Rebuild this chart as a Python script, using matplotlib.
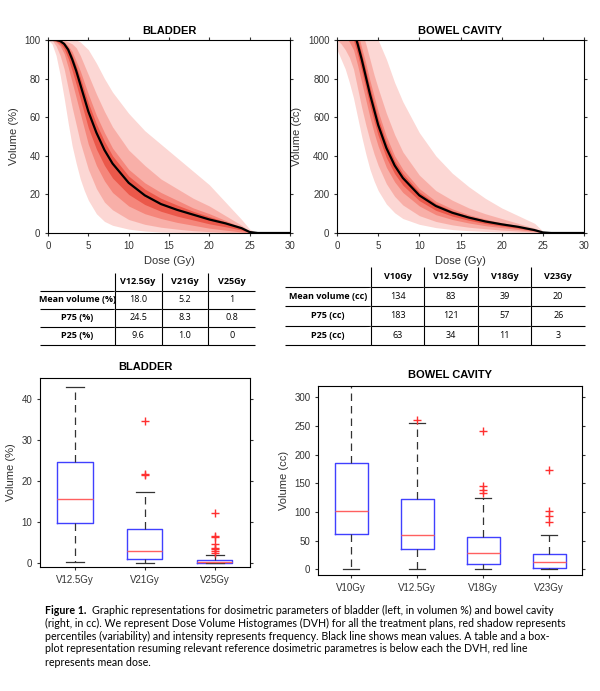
import numpy as np
import matplotlib
matplotlib.use("Agg")
import matplotlib.pyplot as plt

plt.rcParams['font.family'] = ['Liberation Sans', 'DejaVu Sans']

# DVH percentiles
dose = [0, 0.5, 1, 1.5, 2, 2.5, 3, 3.5, 4, 4.5, 5, 6, 7, 8, 10, 12, 14, 16, 18, 20, 22, 24, 25, 26, 30]
bl_mean = [100, 100, 100, 99.5, 98, 95, 90, 84, 77, 70, 63, 52, 43, 36, 26, 19.5, 15, 12, 9.5, 7, 5, 2.5, 0.5, 0, 0]
bl_max = [100, 100, 100, 100, 100, 100, 100, 100, 99, 97, 95, 88, 80, 73, 62, 53, 46, 39, 32, 25, 16, 7, 2, 0, 0]
bl_p90 = [100, 100, 100, 100, 100, 99, 98, 96, 92, 87, 82, 72, 63, 55, 43, 35, 28, 23, 18, 14, 9, 4, 1, 0, 0]
bl_p75 = [100, 100, 100, 100, 99, 97, 94, 89, 84, 78, 72, 61, 52, 44, 33, 26, 21, 17, 13, 10, 6.5, 3, 0.8, 0, 0]
bl_p25 = [100, 100, 99, 97, 93, 86, 78, 70, 62, 54, 46, 35, 27, 21, 14, 10, 7.5, 5.5, 4, 2.5, 1.5, 0.5, 0, 0, 0]
bl_p10 = [100, 100, 97, 92, 85, 75, 65, 56, 47, 40, 33, 23, 16, 12, 7, 4.5, 3, 2, 1.2, 0.7, 0.3, 0, 0, 0, 0]
bl_min = [100, 98, 92, 82, 70, 57, 45, 36, 28, 22, 17, 10, 6, 4, 2, 1, 0.5, 0.3, 0, 0, 0, 0, 0, 0, 0]

bw_mean = [1100, 1100, 1100, 1080, 1050, 980, 900, 810, 720, 640, 560, 440, 350, 285, 195, 140, 105, 80, 60, 45, 32, 15, 3, 0, 0]
bw_max = [1200, 1200, 1200, 1200, 1200, 1200, 1200, 1150, 1100, 1050, 1000, 900, 780, 680, 520, 400, 310, 240, 180, 130, 90, 50, 10, 0, 0]
bw_p90 = [1200, 1200, 1200, 1180, 1150, 1100, 1050, 980, 900, 820, 750, 620, 510, 420, 300, 220, 170, 130, 100, 75, 50, 25, 5, 0, 0]
bw_p75 = [1150, 1150, 1150, 1130, 1100, 1040, 960, 880, 790, 710, 630, 500, 400, 330, 230, 165, 125, 95, 72, 53, 38, 18, 4, 0, 0]
bw_p25 = [1050, 1050, 1020, 990, 950, 870, 780, 690, 600, 520, 450, 340, 265, 210, 140, 95, 70, 52, 38, 28, 18, 8, 1, 0, 0]
bw_p10 = [1000, 980, 950, 910, 850, 750, 650, 560, 480, 410, 350, 255, 190, 145, 90, 60, 42, 30, 22, 15, 10, 4, 0, 0, 0]
bw_min = [950, 900, 850, 780, 700, 600, 500, 410, 330, 270, 220, 150, 105, 75, 45, 28, 18, 12, 8, 5, 3, 1, 0, 0, 0]

# tables
bl_cols = ["V12.5Gy", "V21Gy", "V25Gy"]
bl_rows = ["Mean volume (%)", "P75 (%)", "P25 (%)"]
bl_cells = [["18.0", "5.2", "1"], ["24.5", "8.3", "0.8"], ["9.6", "1.0", "0"]]
bw_cols = ["V10Gy", "V12.5Gy", "V18Gy", "V23Gy"]
bw_rows = ["Mean volume (cc)", "P75 (cc)", "P25 (cc)"]
bw_cells = [["134", "83", "39", "20"], ["183", "121", "57", "26"], ["63", "34", "11", "3"]]

# boxplot stats: q1, med, q3, whislo, whishi, fliers
bl_box = {
    "V12.5Gy": (9.6, 15.5, 24.5, 0.2, 42.8, []),
    "V21Gy": (1.0, 3.0, 8.3, 0.0, 17.2, [21.3, 21.6, 34.6]),
    "V25Gy": (0.0, 0.1, 0.8, 0.0, 2.0, [2.5, 3.0, 3.3, 3.6, 4.5, 6.2, 6.6, 12.2]),
}
bw_box = {
    "V10Gy": (62, 101, 185, 0, 335, []),
    "V12.5Gy": (35, 59, 122, 0, 255, [260]),
    "V18Gy": (10, 29, 57, 0, 125, [133, 138, 145, 242]),
    "V23Gy": (3, 12, 27, 0, 59, [82, 93, 102, 173]),
}

fig = plt.figure(figsize=(6, 6.91), dpi=100)
W, H = 600, 691


def px(l, t, r, b):
    return [l / W, 1 - b / H, (r - l) / W, (b - t) / H]


def dvh(ax, curves, mean, ylim, ylabel, title, yticks):
    mean = np.array(mean)
    bands = [(curves[0], curves[-1], 0.2), (curves[1], curves[-2], 0.25), (curves[2], curves[-3], 0.35)]
    for lo, hi, a in bands:
        ax.fill_between(dose, lo, hi, color="#f03a28", alpha=a, lw=0)
    lo = mean * 0.5 + np.array(curves[2]) * 0.5
    hi = mean * 0.5 + np.array(curves[-3]) * 0.5
    ax.fill_between(dose, lo, hi, color="#e02010", alpha=0.45, lw=0)
    ax.plot(dose, mean, color="black", lw=1.6)
    ax.set_xlim(0, 30)
    ax.set_ylim(*ylim)
    ax.set_yticks(yticks)
    ax.set_xticks(range(0, 31, 5))
    ax.set_xlabel("Dose (Gy)", fontsize=8, color="#333333")
    ax.set_ylabel(ylabel, fontsize=8, color="#333333")
    ax.set_title(title, fontsize=8, fontweight="bold", pad=4)
    ax.tick_params(labelsize=7, colors="#333333", length=2, top=True, right=True)


ax1 = fig.add_axes(px(48, 40, 290, 233))
dvh(ax1, [bl_min, bl_p10, bl_p25, bl_p75, bl_p90, bl_max], bl_mean, (0, 100), "Volume (%)", "BLADDER", range(0, 101, 20))
ax2 = fig.add_axes(px(337, 40, 584, 233))
dvh(ax2, [bw_min, bw_p10, bw_p25, bw_p75, bw_p90, bw_max], bw_mean, (0, 1000), "Volume (cc)", "BOWEL CAVITY", range(0, 1001, 200))


def table(rect, cols, rows, cells):
    ax = fig.add_axes(rect)
    ax.axis("off")
    tb = ax.table(cellText=[[""] + cols] + [[r] + c for r, c in zip(rows, cells)],
                  loc="center", cellLoc="center", bbox=[0, 0, 1, 1],
                  colWidths=[1.6] + [1] * len(cols))
    tb.auto_set_font_size(False)
    n = len(cols)
    for (i, j), cell in tb.get_celld().items():
        cell.set_linewidth(0.8)
        cell.visible_edges = "B" if j == n else "RB"
        t = cell.get_text()
        t.set_fontsize(6.5)
        t.set_fontfamily(["Open Sans", "DejaVu Sans"])
        if i == 0 or j == 0:
            t.set_fontweight("bold")


table(px(40, 273, 255, 345), bl_cols, bl_rows, bl_cells)
table(px(285, 267, 585, 345), bw_cols, bw_rows, bw_cells)


def boxes(rect, data, ylim, yticks, ylabel, title):
    ax = fig.add_axes(rect)
    stats = []
    for k, (q1, med, q3, lo, hi, fl) in data.items():
        stats.append(dict(label=k, q1=q1, med=med, q3=q3, whislo=lo, whishi=hi, fliers=fl))
    ax.bxp(stats, widths=0.5,
           boxprops=dict(color="#4040ff", lw=1),
           medianprops=dict(color="#ff6060", lw=1),
           whiskerprops=dict(color="#333333", ls=(0, (6, 4)), lw=0.9),
           capprops=dict(color="#333333", lw=0.9),
           flierprops=dict(marker="+", markeredgecolor="#ff3030", markersize=6, lw=0))
    ax.set_ylim(*ylim)
    ax.set_yticks(yticks)
    ax.set_ylabel(ylabel, fontsize=8, color="#333333")
    ax.set_title(title, fontsize=8, fontweight="bold", pad=6)
    ax.tick_params(labelsize=7, colors="#333333", length=2, right=True)


boxes(px(40, 378, 250, 567), bl_box, (-1, 45), range(0, 41, 10), "Volume (%)", "BLADDER")
boxes(px(318, 386, 582, 575), bw_box, (-10, 320), range(0, 301, 50), "Volume (cc)", "BOWEL CAVITY")

cap = ["(right, in cc). We represent Dose Volume Histogrames (DVH) for all the treatment plans, red shadow represents",
       "percentiles (variability) and intensity represents frequency. Black line shows mean values. A table and a box-",
       "plot representation resuming relevant reference dosimetric parametres is below each the DVH, red line",
       "represents mean dose."]
cf = ["Lato", "DejaVu Sans"]
y0 = 1 - 610 / H
fig.text(45 / W, y0, "Figure 1.", fontsize=7.7, fontweight="bold", family=cf, va="center")
fig.text(92 / W, y0, "Graphic representations for dosimetric parameters of bladder (left, in volumen %) and bowel cavity",
         fontsize=7.7, family=cf, va="center")
for i, line in enumerate(cap):
    fig.text(45 / W, y0 - (i + 1) * 13 / H, line, fontsize=7.7, family=cf, va="center")

fig.savefig("out.png", dpi=100)
